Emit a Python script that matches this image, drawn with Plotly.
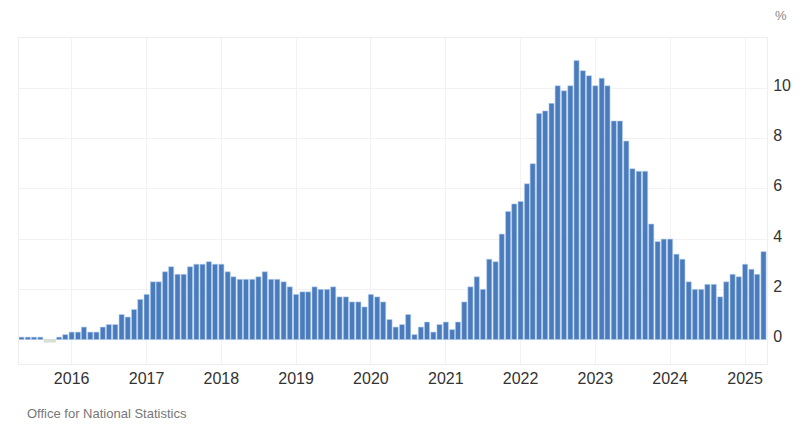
import plotly.graph_objects as go
import pandas as pd

# UK CPI inflation rate, monthly, May 2015 - Apr 2025 (%)
months = pd.date_range("2015-05-01", "2025-04-01", freq="MS")
values = [
    # 2015 May-Dec
    0.1, 0.1, 0.1, 0.1, -0.1, -0.1, 0.1, 0.2,
    # 2016
    0.3, 0.3, 0.5, 0.3, 0.3, 0.5, 0.6, 0.6, 1.0, 0.9, 1.2, 1.6,
    # 2017
    1.8, 2.3, 2.3, 2.7, 2.9, 2.6, 2.6, 2.9, 3.0, 3.0, 3.1, 3.0,
    # 2018
    3.0, 2.7, 2.5, 2.4, 2.4, 2.4, 2.5, 2.7, 2.4, 2.4, 2.3, 2.1,
    # 2019
    1.8, 1.9, 1.9, 2.1, 2.0, 2.0, 2.1, 1.7, 1.7, 1.5, 1.5, 1.3,
    # 2020
    1.8, 1.7, 1.5, 0.8, 0.5, 0.6, 1.0, 0.2, 0.5, 0.7, 0.3, 0.6,
    # 2021
    0.7, 0.4, 0.7, 1.5, 2.1, 2.5, 2.0, 3.2, 3.1, 4.2, 5.1, 5.4,
    # 2022
    5.5, 6.2, 7.0, 9.0, 9.1, 9.4, 10.1, 9.9, 10.1, 11.1, 10.7, 10.5,
    # 2023
    10.1, 10.4, 10.1, 8.7, 8.7, 7.9, 6.8, 6.7, 6.7, 4.6, 3.9, 4.0,
    # 2024
    4.0, 3.4, 3.2, 2.3, 2.0, 2.0, 2.2, 2.2, 1.7, 2.3, 2.6, 2.5,
    # 2025 Jan-Apr
    3.0, 2.8, 2.6, 3.5,
]
year_ticks = [f"{y}-01-01" for y in range(2016, 2026)]
year_labels = [str(y) for y in range(2016, 2026)]
y_ticks = [0, 2, 4, 6, 8, 10]

POS = "#4a7bbc"
NEG = "#ece2b4"
colors = [POS if v >= 0 else NEG for v in values]

fig = go.Figure()
fig.add_trace(go.Bar(
    x=months, y=values,
    marker=dict(color=colors, line=dict(color="#b9d2ee", width=0.6)),
    hoverinfo="x+y",
))

fig.update_layout(
    width=803, height=445,
    margin=dict(l=19, r=36, t=38, b=81),
    paper_bgcolor="white", plot_bgcolor="white",
    bargap=0.1,
    showlegend=False,
    font=dict(family="Liberation Sans, Arial, sans-serif", color="#333"),
    xaxis=dict(
        type="date",
        range=["2015-04-19", "2025-04-18"],
        tickvals=year_ticks, ticktext=year_labels,
        tickfont=dict(size=16, color="#333"),
        showgrid=True, gridcolor="#f2f2f2", gridwidth=1,
        showline=True, linecolor="#eeeeee", mirror=True,
        ticks="", zeroline=False, ticklabelstandoff=0,
    ),
    yaxis=dict(
        side="right",
        range=[-0.97, 12.0],
        tickvals=y_ticks,
        tickfont=dict(size=16, color="#333"),
        showgrid=True, gridcolor="#f2f2f2", gridwidth=1,
        showline=True, linecolor="#eeeeee", mirror=True,
        zeroline=False, ticks="", ticklabelstandoff=2,
        ticklabelshift=-3,
    ),
    annotations=[
        dict(text="%", xref="paper", yref="paper", x=1.019, y=1.07,
             xanchor="center", yanchor="middle", showarrow=False,
             font=dict(size=13, color="#888")),
        dict(text="Office for National Statistics", xref="paper", yref="paper",
             x=(25 - 19) / 748, y=-(413 - 364) / 326,
             xanchor="left", yanchor="middle", showarrow=False,
             font=dict(size=13, color="#777")),
    ],
)

fig.write_html("out.html")
